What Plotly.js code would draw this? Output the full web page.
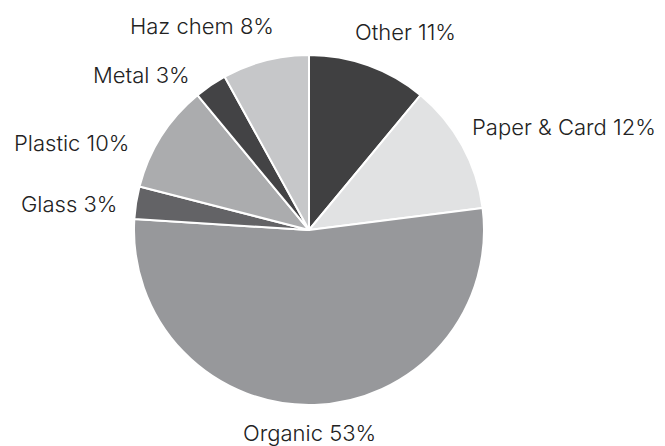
<!DOCTYPE html>
<html><head><meta charset="utf-8">
<script src="https://cdn.plot.ly/plotly-3.0.1.min.js"></script>
<style>html,body{margin:0;padding:0;background:#fff}</style>
</head><body><div id="chart" style="width:665px;height:446px"></div>
<script>
const categories = ["Other", "Paper & Card", "Organic", "Glass", "Plastic", "Metal", "Haz chem"];
const values = [11, 12, 53, 3, 10, 3, 8];
const colors = ["#404041", "#e1e2e3", "#97989b", "#636366", "#abacae", "#434345", "#c6c7c9"];
// label centre positions in pixels (layout only)
const labelPos = [[405, 32], [564, 127], [309, 433], [69, 204], [71, 143], [141, 75], [202, 26]];
const W = 665, H = 446, cx = 309, cy = 230, r = 175;
const annotations = categories.map((c, i) => ({
  text: c + " " + values[i] + "%",
  xref: "paper", yref: "paper",
  x: labelPos[i][0] / W, y: 1 - labelPos[i][1] / H,
  xanchor: "center", yanchor: "middle",
  showarrow: false,
  font: {family: "Inter, Open Sans, Liberation Sans, Arial, sans-serif", size: 22, weight: 300, color: "#222222"}
}));
Plotly.newPlot("chart", [{
  type: "pie",
  labels: categories,
  values: values,
  sort: false,
  direction: "clockwise",
  rotation: 0,
  marker: {colors: colors, line: {color: "#ffffff", width: 2}},
  textinfo: "none",
  hoverinfo: "none",
  domain: {x: [(cx - r) / W, (cx + r) / W], y: [(H - cy - r) / H, (H - cy + r) / H]}
}], {
  width: W, height: H,
  margin: {l: 0, r: 0, t: 0, b: 0},
  showlegend: false,
  paper_bgcolor: "#ffffff",
  annotations: annotations
}, {displayModeBar: false, staticPlot: true});
</script></body></html>
